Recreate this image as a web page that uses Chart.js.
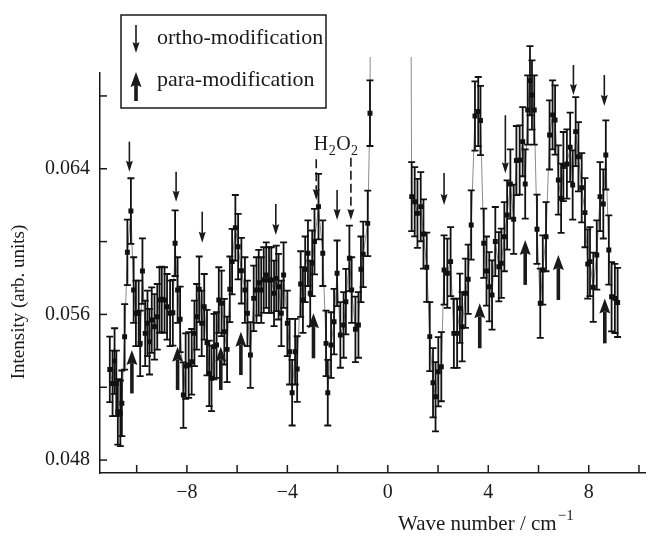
<!DOCTYPE html>
<html>
<head>
<meta charset="utf-8">
<script src="https://cdn.jsdelivr.net/npm/chart.js@4.4.1/dist/chart.umd.min.js"></script>
<style>
html, body { margin: 0; padding: 0; background: #fff; }
</style>
</head>
<body>
<canvas id="graph" width="649" height="536"></canvas>
<script>
// spectrum, left of the gap (wave number cm^-1 / intensity)
const waveLeft = [-11.07, -10.96, -10.88, -10.81, -10.75, -10.65, -10.59, -10.48, -10.37, -10.23,
  -10.12, -10.03, -9.92, -9.86, -9.77, -9.66, -9.57, -9.49, -9.40, -9.29,
  -9.18, -9.09, -9.00, -8.89, -8.79, -8.67, -8.56, -8.47, -8.37, -8.27,
  -8.14, -8.05, -7.93, -7.81, -7.70, -7.61, -7.51, -7.41, -7.31, -7.20,
  -7.11, -7.02, -6.92, -6.82, -6.73, -6.62, -6.51, -6.40, -6.29, -6.20,
  -6.07, -5.96, -5.83, -5.69, -5.59, -5.47, -5.34, -5.23, -5.14, -5.04,
  -4.94, -4.84, -4.73, -4.64, -4.53, -4.44, -4.35, -4.24, -4.15, -4.00,
  -3.91, -3.81, -3.69, -3.61, -3.47, -3.38, -3.29, -3.18, -3.09, -3.01,
  -2.92, -2.76, -2.59, -2.46, -2.39, -2.26, -2.14, -2.02, -1.89, -1.76,
  -1.67, -1.53, -1.44, -1.29, -1.17, -1.07, -0.98, -0.80, -0.71, -0.62];
const intLeft = [0.05298, 0.05221, 0.05344, 0.05221, 0.05065, 0.05057, 0.05112, 0.05477, 0.05941, 0.06168,
  0.05734, 0.05606, 0.05606, 0.05441, 0.05838, 0.05496, 0.05551, 0.05450, 0.05569, 0.05532,
  0.05587, 0.05679, 0.05683, 0.05679, 0.05642, 0.05606, 0.05609, 0.05991, 0.05734, 0.05573,
  0.05157, 0.05316, 0.05322, 0.05340, 0.05496, 0.05587, 0.05738, 0.05551, 0.05642, 0.05445,
  0.05276, 0.05249, 0.05423, 0.05432, 0.05679, 0.05661, 0.05505, 0.05408, 0.05738, 0.05890,
  0.06076, 0.05972, 0.05840, 0.05734, 0.05606, 0.05377, 0.05688, 0.05734, 0.05774, 0.05734,
  0.05789, 0.05816, 0.05789, 0.05789, 0.05716, 0.05798, 0.05752, 0.05606, 0.05816, 0.05551,
  0.05395, 0.05170, 0.05395, 0.05300, 0.05767, 0.05679, 0.05848, 0.05936, 0.05716, 0.05881,
  0.06000, 0.06192, 0.05936, 0.05441, 0.05170, 0.05432, 0.05560, 0.05826, 0.05487, 0.05542,
  0.05670, 0.05908, 0.05734, 0.05518, 0.05542, 0.05848, 0.05930, 0.06100, 0.06705, 0.10000];

// spectrum, right of the gap
const waveRight = [0.85, 0.95, 1.07, 1.18, 1.31, 1.42, 1.55, 1.67, 1.80, 1.90,
  2.01, 2.13, 2.24, 2.37, 2.50, 2.63, 2.76, 2.87, 2.96, 3.09,
  3.20, 3.32, 3.47, 3.60, 3.69, 3.82, 3.93, 4.04, 4.15, 4.28,
  4.42, 4.52, 4.64, 4.75, 4.88, 5.01, 5.12, 5.25, 5.37, 5.47,
  5.57, 5.66, 5.74, 5.83, 5.94, 6.07, 6.17, 6.30, 6.44, 6.56,
  6.66, 6.79, 6.90, 6.99, 7.13, 7.26, 7.36, 7.48, 7.59, 7.72,
  7.85, 7.96, 8.05, 8.18, 8.32, 8.45, 8.58, 8.68, 8.80, 8.91,
  9.04, 9.15];
const intRight = [0.10000, 0.06247, 0.06219, 0.06155, 0.06192, 0.06042, 0.05859, 0.05478, 0.05225, 0.05148,
  0.05285, 0.05313, 0.05844, 0.05826, 0.05890, 0.05496, 0.05496, 0.05634, 0.05532, 0.05716,
  0.05793, 0.06091, 0.06690, 0.06714, 0.06665, 0.05991, 0.05838, 0.05752, 0.05707, 0.06000,
  0.05862, 0.05881, 0.06027, 0.06146, 0.06316, 0.06123, 0.06445, 0.06448, 0.06549, 0.06316,
  0.06723, 0.06884, 0.06805, 0.06723, 0.06068, 0.05661, 0.05844, 0.06027, 0.06586, 0.06696,
  0.06668, 0.06338, 0.06238, 0.06412, 0.06426, 0.06518, 0.06311, 0.06604, 0.06466, 0.06296,
  0.06159, 0.05877, 0.05890, 0.05749, 0.05926, 0.06247, 0.06207, 0.06476, 0.05954, 0.05697,
  0.05688, 0.05666];

const errLeft = 0.0018;
const errRight = 0.0019;

// ortho-modification lines (thin down arrows): wave number, top and tip intensity
const orthoX = [-10.29, -8.43, -7.39, -4.46, -2.02, 2.24, 4.68, 7.39, 8.62];
const orthoTop = [0.06549, 0.06384, 0.06164, 0.06206, 0.06284, 0.06377, 0.06694, 0.06970, 0.06915];
const orthoTip = [0.06384, 0.06219, 0.05994, 0.06036, 0.06119, 0.06201, 0.06375, 0.06805, 0.06745];

// H2O2 lines (dashed down arrows)
const h2o2X = [-2.85, -1.47];
const h2o2Top = [0.06452, 0.06460];
const h2o2Tip = [0.06229, 0.06119];

// para-modification lines (thick up arrows): wave number, bottom and tip intensity
const paraX = [-10.19, -8.37, -6.65, -5.85, -2.96, 3.66, 5.47, 6.79, 8.64];
const paraBottom = [0.05166, 0.05185, 0.05185, 0.05267, 0.05359, 0.05414, 0.05762, 0.05679, 0.05441];
const paraTip = [0.05404, 0.05423, 0.05423, 0.05505, 0.05606, 0.05661, 0.06009, 0.05926, 0.05688];

const xLabels = [-8, -4, 0, 4, 8];
const yLabels = [0.048, 0.056, 0.064];

const SERIF = '"Liberation Serif", "DejaVu Serif", serif';
const INK = '#1a1a1a';

function fmtX(v) {
  return v < 0 ? '\u2212' + Math.abs(v) : String(v);
}

function arrow(ctx, x, yFrom, yTo, lw, headW, headL) {
  const dir = yTo > yFrom ? 1 : -1;
  ctx.lineWidth = lw;
  ctx.beginPath();
  ctx.moveTo(x, yFrom);
  ctx.lineTo(x, yTo - dir * (headL - 2));
  ctx.stroke();
  ctx.setLineDash([]);
  ctx.beginPath();
  ctx.moveTo(x, yTo);
  ctx.lineTo(x - headW / 2, yTo - dir * headL);
  ctx.lineTo(x, yTo - dir * headL * 0.85);
  ctx.lineTo(x + headW / 2, yTo - dir * headL);
  ctx.closePath();
  ctx.fill();
}

const errorBars = {
  id: 'errorBars',
  afterDatasetsDraw(chart) {
    const {ctx, scales: {x, y}} = chart;
    ctx.save();
    ctx.strokeStyle = '#111';
    ctx.lineWidth = 1.8;
    chart.data.datasets.forEach(ds => {
      ds.data.forEach(p => {
        if (p.y > y.max) return;
        const px = x.getPixelForValue(p.x);
        const t = y.getPixelForValue(p.y + ds.err);
        const b = y.getPixelForValue(p.y - ds.err);
        ctx.beginPath();
        ctx.moveTo(px, t); ctx.lineTo(px, b);
        ctx.moveTo(px - 3.5, t); ctx.lineTo(px + 3.5, t);
        ctx.moveTo(px - 3.5, b); ctx.lineTo(px + 3.5, b);
        ctx.stroke();
      });
    });
    ctx.restore();
  }
};

const decorations = {
  id: 'decorations',
  afterDraw(chart) {
    const {ctx, chartArea: ca, scales: {x, y}} = chart;
    ctx.save();
    ctx.strokeStyle = INK;
    ctx.fillStyle = INK;

    // inward tick marks
    ctx.lineWidth = 1.5;
    x.ticks.forEach(t => {
      const px = x.getPixelForValue(t.value);
      ctx.beginPath(); ctx.moveTo(px, ca.bottom); ctx.lineTo(px, ca.bottom - 8); ctx.stroke();
    });
    y.ticks.forEach(t => {
      const py = y.getPixelForValue(t.value);
      ctx.beginPath(); ctx.moveTo(ca.left, py); ctx.lineTo(ca.left + 7, py); ctx.stroke();
    });

    // arrows
    ctx.lineCap = 'butt';
    orthoX.forEach((v, i) => {
      arrow(ctx, x.getPixelForValue(v), y.getPixelForValue(orthoTop[i]), y.getPixelForValue(orthoTip[i]), 1.6, 7, 11);
    });
    h2o2X.forEach((v, i) => {
      ctx.setLineDash([9, 4]);
      arrow(ctx, x.getPixelForValue(v), y.getPixelForValue(h2o2Top[i]), y.getPixelForValue(h2o2Tip[i]), 1.6, 7, 11);
    });
    paraX.forEach((v, i) => {
      arrow(ctx, x.getPixelForValue(v), y.getPixelForValue(paraBottom[i]), y.getPixelForValue(paraTip[i]), 3.6, 11, 15);
    });

    // H2O2 label
    let lx = x.getPixelForValue(-2.95);
    const ly = y.getPixelForValue(0.06503);
    ctx.textBaseline = 'alphabetic';
    ctx.textAlign = 'left';
    [['H', 20, 0], ['2', 14, 5], ['O', 20, 0], ['2', 14, 5]].forEach(([s, size, dy]) => {
      ctx.font = size + 'px ' + SERIF;
      ctx.fillText(s, lx, ly + dy);
      lx += ctx.measureText(s).width + 0.5;
    });

    // legend box
    ctx.lineWidth = 1.5;
    ctx.strokeRect(121, 15, 205, 93);
    arrow(ctx, 136, 25, 53, 1.6, 7, 11);
    arrow(ctx, 136, 101, 72, 3.6, 11, 15);
    ctx.font = '22px ' + SERIF;
    ctx.textBaseline = 'middle';
    ctx.fillText('ortho-modification', 157, 38);
    ctx.fillText('para-modification', 157, 80);

    // axis titles
    ctx.font = '19px ' + SERIF;
    ctx.save();
    ctx.translate(19, 302);
    ctx.rotate(-Math.PI / 2);
    ctx.textAlign = 'center';
    ctx.fillText('Intensity (arb. units)', 0, 0);
    ctx.restore();

    ctx.textBaseline = 'alphabetic';
    ctx.textAlign = 'left';
    ctx.font = '21px ' + SERIF;
    const main = 'Wave number / cm';
    ctx.fillText(main, 398, 530);
    const w = ctx.measureText(main).width;
    ctx.font = '15px ' + SERIF;
    ctx.fillText('\u22121', 398 + w + 1, 520);
    ctx.restore();
  }
};

const config = {
  type: 'line',
  data: {
    datasets: [
      {
        data: waveLeft.map((v, i) => ({x: v, y: intLeft[i]})),
        err: errLeft
      },
      {
        data: waveRight.map((v, i) => ({x: v, y: intRight[i]})),
        err: errRight
      }
    ]
  },
  options: {
    responsive: false,
    devicePixelRatio: 1,
    animation: false,
    layout: {padding: {top: 73, right: 0, left: 0, bottom: 0}},
    elements: {
      line: {borderColor: '#8c8c8c', borderWidth: 1, tension: 0},
      point: {pointStyle: 'rect', radius: 3.5, backgroundColor: '#111', borderWidth: 0, hoverRadius: 3.5}
    },
    datasets: {line: {clip: {left: 0, top: 16, right: 0, bottom: 0}}},
    plugins: {legend: {display: false}, tooltip: {enabled: false}},
    scales: {
      x: {
        type: 'linear',
        min: -11.46,
        max: 10.26,
        grid: {display: false, drawTicks: false},
        border: {display: true, color: INK, width: 1.5},
        ticks: {
          stepSize: 2,
          includeBounds: false,
          autoSkip: false,
          maxRotation: 0,
          padding: 8,
          color: INK,
          font: {family: SERIF, size: 20},
          callback: v => xLabels.includes(v) ? fmtX(v) : ''
        },
        afterFit: s => { s.height = 63; }
      },
      y: {
        type: 'linear',
        min: 0.04729,
        max: 0.06926,
        grid: {display: false, drawTicks: false},
        border: {display: true, color: INK, width: 1.5},
        ticks: {
          stepSize: 0.004,
          includeBounds: false,
          padding: 10,
          color: INK,
          font: {family: SERIF, size: 20},
          callback: v => yLabels.some(l => Math.abs(l - v) < 1e-6) ? v.toFixed(3) : ''
        },
        afterFit: s => { s.width = 100; }
      }
    }
  },
  plugins: [errorBars, decorations]
};

new Chart(document.getElementById('graph'), config);
</script>
</body>
</html>
